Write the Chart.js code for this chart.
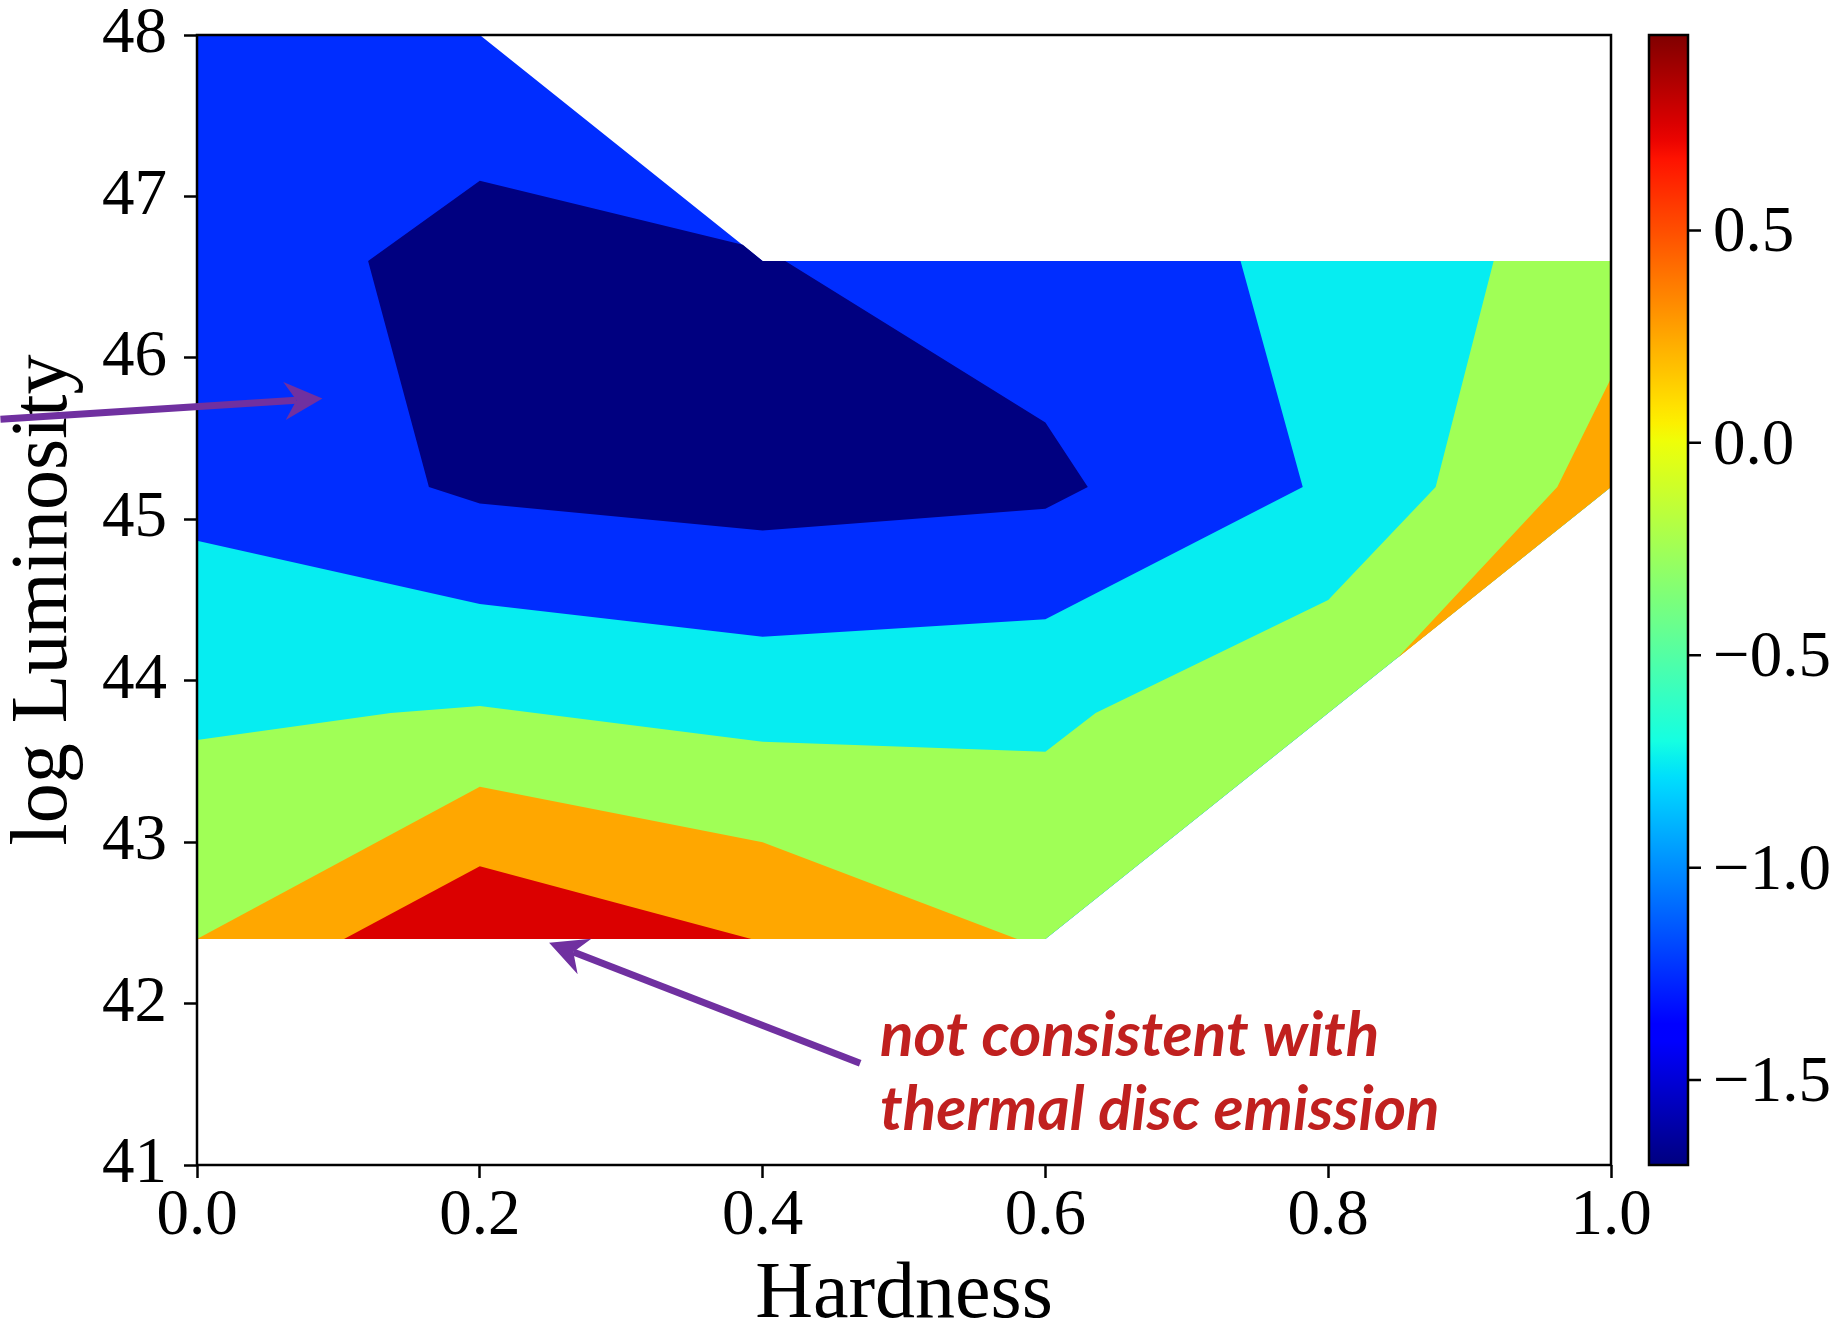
<!DOCTYPE html>
<html>
<head>
<meta charset="utf-8">
<title>Hardness vs log Luminosity</title>
<script src="https://cdn.jsdelivr.net/npm/chart.js@4.4.1/dist/chart.umd.min.js"></script>
<style>
  html, body { margin: 0; padding: 0; background: #fff; }
  #wrap { width: 1846px; height: 1329px; }
</style>
</head>
<body>
<div id="wrap"><canvas id="contour"></canvas></div>
<script>
// contour levels and colour bar range
const levels = [-2.0, -1.5, -1.0, -0.5, 0.0, 0.5, 1.0];
const cbMin = -1.70;
const cbMax = 0.96;
const cbTicks = [-1.5, -1.0, -0.5, 0.0, 0.5];

const hardnessTicks = [0, 0.2, 0.4, 0.6, 0.8, 1.0];
const lumTicks = [41, 42, 43, 44, 45, 46, 47, 48];

// filled regions as [hardness, log L] vertices, painted in this order
// valid data domain (band -1.5 .. -1.0 underneath everything)
const regionDomain = [[0, 48], [0.2, 48], [0.4, 46.6], [1, 46.6], [1, 45.2], [0.8, 43.8], [0.6, 42.4], [0, 42.4]];
// z < -1.5
const regionLow = [[0.2, 47.097], [0.386, 46.70], [0.4, 46.6], [0.416, 46.6], [0.6, 45.6], [0.630, 45.2],
  [0.6, 45.065], [0.4, 44.93], [0.2, 45.098], [0.164, 45.2], [0.121, 46.6]];
// z > -1.0
const regionAbove10 = [[0, 44.867], [0.2, 44.475], [0.4, 44.272], [0.6, 44.38], [0.782, 45.2], [0.738, 46.6],
  [1, 46.6], [1, 45.2], [0.8, 43.8], [0.6, 42.4], [0, 42.4]];
// z > -0.5
const regionAbove05 = [[0, 43.632], [0.137, 43.8], [0.2, 43.843], [0.4, 43.622], [0.6, 43.56], [0.6355, 43.8],
  [0.8, 44.5], [0.876, 45.2], [0.917, 46.6], [1, 46.6], [1, 45.2], [0.8, 43.8], [0.6, 42.4], [0, 42.4]];
// z > 0
const regionAbove0a = [[0, 42.4], [0.2, 43.343], [0.4, 43.0], [0.58, 42.4]];
const regionAbove0b = [[1, 45.873], [0.962, 45.2], [0.849, 44.14], [1, 45.2]];
// z > 0.5
const regionAbove5 = [[0.104, 42.4], [0.2, 42.851], [0.392, 42.4]];

// which level band each region is coloured with
const regions = [
  { pts: regionDomain, band: 1 },
  { pts: regionLow, band: 0 },
  { pts: regionAbove10, band: 2 },
  { pts: regionAbove05, band: 3 },
  { pts: regionAbove0a, band: 4 },
  { pts: regionAbove0b, band: 4 },
  { pts: regionAbove5, band: 5 }
];

// annotations (data coordinates)
const arrowTails = [[-0.139, 45.62], [0.469, 41.63]];
const arrowTips = [[0.0887, 45.748], [0.249, 42.377]];
const noteAnchor = [0.483, 41.675];
const noteLines = ['not consistent with', 'thermal disc emission'];


// matplotlib 'jet'
const jetRed = [[0, 0], [0.35, 0], [0.66, 1], [0.89, 1], [1, 0.5]];
const jetGreen = [[0, 0], [0.125, 0], [0.375, 1], [0.64, 1], [0.91, 0], [1, 0]];
const jetBlue = [[0, 0.5], [0.11, 1], [0.34, 1], [0.65, 0], [1, 0]];

function segValue(table, t) {
    for (let i = 1; i < table.length; i++) {
        if (t <= table[i][0]) {
            const [x0, y0] = table[i - 1];
            const [x1, y1] = table[i];
            return y0 + (y1 - y0) * (t - x0) / (x1 - x0);
        }
    }
    return table[table.length - 1][1];
}

function jet(t) {
    t = Math.min(1, Math.max(0, t));
    const r = Math.round(255 * segValue(jetRed, t));
    const g = Math.round(255 * segValue(jetGreen, t));
    const b = Math.round(255 * segValue(jetBlue, t));
    return `rgb(${r},${g},${b})`;
}

function bandColor(band) {
    const mid = (levels[band] + levels[band + 1]) / 2;
    return jet((mid - cbMin) / (cbMax - cbMin));
}

function fmtCb(v) {
    return (v < 0 ? '\u2212' : '') + Math.abs(v).toFixed(1);
}


const datasets = regions.map((r, i) => ({
    label: 'region ' + i,
    data: r.pts.map(p => ({ x: p[0], y: p[1] })),
    fillColor: bandColor(r.band),
    showLine: false,
    pointRadius: 0,
    pointHoverRadius: 0
}));


// fills each region polygon from the point positions the scales computed
const contourFill = {
    id: 'contourFill',
    beforeDatasetsDraw(chart) {
        const { ctx, chartArea } = chart;
        ctx.save();
        ctx.beginPath();
        ctx.rect(chartArea.left, chartArea.top, chartArea.width, chartArea.height);
        ctx.clip();
        chart.data.datasets.forEach((ds, i) => {
            const pts = chart.getDatasetMeta(i).data;
            ctx.beginPath();
            pts.forEach((p, j) => j ? ctx.lineTo(p.x, p.y) : ctx.moveTo(p.x, p.y));
            ctx.closePath();
            ctx.fillStyle = ds.fillColor;
            ctx.fill();
        });
        ctx.restore();
    }
};


// axes box, colour bar and its ticks
const frameAndBar = {
    id: 'frameAndBar',
    afterDatasetsDraw(chart) {
        const { ctx, chartArea } = chart;
        ctx.save();
        ctx.strokeStyle = '#000';
        ctx.lineWidth = 2.5;
        ctx.strokeRect(chartArea.left, chartArea.top, chartArea.width, chartArea.height);

        const cb = chart.scales.cb;
        const yTop = cb.getPixelForValue(cbMax);
        const yBot = cb.getPixelForValue(cbMin);
        const barLeft = chartArea.right + 38;
        const barW = 39;
        const grad = ctx.createLinearGradient(0, yBot, 0, yTop);
        for (let i = 0; i <= 64; i++) {
            grad.addColorStop(i / 64, jet(i / 64));
        }
        ctx.fillStyle = grad;
        ctx.fillRect(barLeft, yTop, barW, yBot - yTop);
        ctx.strokeRect(barLeft, yTop, barW, yBot - yTop);

        ctx.beginPath();
        cbTicks.forEach(v => {
            const y = cb.getPixelForValue(v);
            ctx.moveTo(barLeft + barW, y);
            ctx.lineTo(barLeft + barW + 13, y);
        });
        ctx.stroke();
        ctx.restore();
    }
};


function drawArrow(ctx, x0, y0, x1, y1) {
    const ang = Math.atan2(y1 - y0, x1 - x0);
    const len = Math.hypot(x1 - x0, y1 - y0);
    ctx.save();
    ctx.translate(x1, y1);
    ctx.rotate(ang);
    ctx.lineWidth = 7;
    ctx.beginPath();
    ctx.moveTo(-len, 0);
    ctx.lineTo(-26, 0);
    ctx.stroke();
    ctx.beginPath();
    ctx.moveTo(0, 0);
    ctx.lineTo(-38, -19);
    ctx.lineTo(-26, 0);
    ctx.lineTo(-38, 19);
    ctx.closePath();
    ctx.fill();
    ctx.restore();
}

const notes = {
    id: 'notes',
    afterDraw(chart) {
        const { ctx } = chart;
        const xs = chart.scales.x, ys = chart.scales.y;
        ctx.save();
        ctx.strokeStyle = '#7030a0';
        ctx.fillStyle = '#7030a0';
        arrowTails.forEach((t, i) => {
            const h = arrowTips[i];
            drawArrow(ctx, xs.getPixelForValue(t[0]), ys.getPixelForValue(t[1]),
                xs.getPixelForValue(h[0]), ys.getPixelForValue(h[1]));
        });
        ctx.fillStyle = '#c0201f';
        ctx.font = 'italic bold 62px Lato';
        ctx.textBaseline = 'alphabetic';
        const nx = xs.getPixelForValue(noteAnchor[0]);
        const ny = ys.getPixelForValue(noteAnchor[1]);
        noteLines.forEach((s, i) => ctx.fillText(s, nx, ny + i * 74));
        ctx.restore();
    }
};


Chart.defaults.font.family = "'Liberation Serif', 'DejaVu Serif', serif";
Chart.defaults.color = '#000';

const tickGrid = {
    drawOnChartArea: false,
    drawTicks: true,
    tickLength: 13,
    tickWidth: 2.5,
    tickColor: '#000'
};

// fixed box sizes; no extra room for overhanging tick labels
function fixWidth(w) {
    return s => {
        s.width = w;
        s.paddingTop = 0;
        s.paddingBottom = 0;
    };
}

new Chart(document.getElementById('contour'), {
    type: 'scatter',
    data: { datasets },
    options: {
        responsive: true,
        maintainAspectRatio: false,
        animation: false,
        events: [],
        layout: { padding: { top: 35, left: 0, right: 0, bottom: 0 } },
        plugins: {
            legend: { display: false },
            tooltip: { enabled: false }
        },
        scales: {
            x: {
                type: 'linear',
                min: 0,
                max: 1,
                afterBuildTicks: s => { s.ticks = hardnessTicks.map(v => ({ value: v })); },
                afterFit: s => {
                    s.height = 164;
                    s.paddingLeft = 0;
                    s.paddingRight = 0;
                },
                grid: tickGrid,
                border: { display: false },
                ticks: {
                    autoSkip: false,
                    maxRotation: 0,
                    padding: 0,
                    font: { size: 65 },
                    callback: v => v.toFixed(1)
                },
                title: {
                    display: true,
                    text: 'Hardness',
                    font: { size: 80, lineHeight: 0.83 },
                    padding: 0
                }
            },
            y: {
                type: 'linear',
                min: 41,
                max: 48,
                afterBuildTicks: s => { s.ticks = lumTicks.map(v => ({ value: v })); },
                afterFit: fixWidth(197),
                grid: tickGrid,
                border: { display: false },
                ticks: {
                    autoSkip: false,
                    padding: 17,
                    font: { size: 65 },
                    callback: v => String(v)
                },
                title: {
                    display: true,
                    text: 'log Luminosity',
                    font: { size: 80, lineHeight: 1.125 },
                    padding: 0
                }
            },
            cb: {
                type: 'linear',
                position: 'right',
                min: cbMin,
                max: cbMax,
                afterBuildTicks: s => { s.ticks = cbTicks.map(v => ({ value: v })); },
                afterFit: fixWidth(235),
                grid: { drawOnChartArea: false, drawTicks: false },
                border: { display: false },
                ticks: {
                    autoSkip: false,
                    padding: 102,
                    labelOffset: 4,
                    font: { size: 65 },
                    callback: v => fmtCb(v)
                }
            }
        }
    },
    plugins: [contourFill, frameAndBar, notes]
});
</script>
</body>
</html>
